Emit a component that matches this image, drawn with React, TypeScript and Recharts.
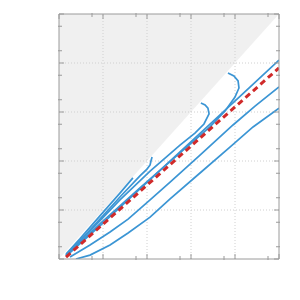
import React from 'react';
import { ComposedChart, Line, Area, XAxis, YAxis, ReferenceLine } from 'recharts';

const majorTicks = [0, 0.2, 0.4, 0.6, 0.8, 1];
const minorTicks = [0.05, 0.1, 0.15, 0.25, 0.3, 0.35, 0.45, 0.5, 0.55, 0.65, 0.7, 0.75, 0.85, 0.9, 0.95];
const gridValues = [0.2, 0.4, 0.6, 0.8];

const shadedRegion = [
  { x: 0, r: [0, 1] },
  { x: 1, r: [1, 1] },
];

const curve1 = [
  { x: 0.032, y: 0.02 }, { x: 0.095, y: 0.082 }, { x: 0.186, y: 0.176 }, { x: 0.277, y: 0.269 }, { x: 0.336, y: 0.331 },
];
const curve2 = [
  { x: 0.032, y: 0.016 }, { x: 0.095, y: 0.073 }, { x: 0.186, y: 0.163 }, { x: 0.277, y: 0.253 }, { x: 0.368, y: 0.339 },
  { x: 0.4, y: 0.367 }, { x: 0.414, y: 0.384 }, { x: 0.418, y: 0.4 }, { x: 0.423, y: 0.416 },
];
const curve3 = [
  { x: 0.032, y: 0.016 }, { x: 0.141, y: 0.114 }, { x: 0.277, y: 0.241 }, { x: 0.414, y: 0.359 }, { x: 0.55, y: 0.465 },
  { x: 0.618, y: 0.514 }, { x: 0.659, y: 0.551 }, { x: 0.682, y: 0.592 }, { x: 0.677, y: 0.616 }, { x: 0.664, y: 0.629 },
  { x: 0.645, y: 0.637 },
];
const curve4 = [
  { x: 0.032, y: 0.012 }, { x: 0.186, y: 0.143 }, { x: 0.368, y: 0.29 }, { x: 0.55, y: 0.433 }, { x: 0.686, y: 0.539 },
  { x: 0.755, y: 0.604 }, { x: 0.8, y: 0.661 }, { x: 0.818, y: 0.698 }, { x: 0.814, y: 0.727 }, { x: 0.795, y: 0.747 },
  { x: 0.768, y: 0.759 },
];
const curve5 = [
  { x: 0.032, y: 0.012 }, { x: 0.186, y: 0.135 }, { x: 0.368, y: 0.286 }, { x: 0.55, y: 0.437 }, { x: 0.732, y: 0.588 },
  { x: 0.868, y: 0.702 }, { x: 1.0, y: 0.812 },
];
const curve6 = [
  { x: 0.05, y: 0.008 }, { x: 0.141, y: 0.057 }, { x: 0.232, y: 0.11 }, { x: 0.314, y: 0.163 }, { x: 0.414, y: 0.241 },
  { x: 0.505, y: 0.314 }, { x: 0.641, y: 0.424 }, { x: 0.791, y: 0.547 }, { x: 0.891, y: 0.624 }, { x: 1.0, y: 0.702 },
];
const curve7 = [
  { x: 0.077, y: 0.0 }, { x: 0.141, y: 0.016 }, { x: 0.232, y: 0.057 }, { x: 0.314, y: 0.106 }, { x: 0.414, y: 0.171 },
  { x: 0.505, y: 0.245 }, { x: 0.641, y: 0.351 }, { x: 0.777, y: 0.457 }, { x: 0.882, y: 0.539 }, { x: 1.0, y: 0.616 },
];
const redLine = [
  { x: 0.032, y: 0.008 }, { x: 1.0, y: 0.78 },
];

const blueCurves = [curve1, curve2, curve3, curve4, curve5, curve6, curve7];

const AX = '#9a9a9a';
const BLUE = '#3b95d4';
const RED = '#d02a2a';
const GRID = '#d0d0d0';

const NoLabel = () => <g />;

export default function App() {
  const common = {
    type: 'number' as const,
    domain: [0, 1],
    tick: NoLabel,
    stroke: AX,
    allowDataOverflow: true,
  };
  return (
    <ComposedChart
      width={292}
      height={292}
      margin={{ top: 4, right: 19, bottom: 39, left: 49 }}
      data={shadedRegion}
    >
      <XAxis {...common} dataKey="x" ticks={majorTicks} tickSize={-5} height={1} />
      <XAxis {...common} xAxisId="bm" dataKey="x" ticks={minorTicks} tickSize={-4} height={1} axisLine={false} />
      <XAxis {...common} xAxisId="t" orientation="top" dataKey="x" ticks={majorTicks} tickSize={-5} height={1} />
      <XAxis {...common} xAxisId="tm" orientation="top" dataKey="x" ticks={minorTicks} tickSize={-4} height={1} axisLine={false} />
      <YAxis {...common} ticks={majorTicks} tickSize={-5} width={1} />
      <YAxis {...common} yAxisId="lm" ticks={minorTicks} tickSize={-4} width={1} axisLine={false} />
      <YAxis {...common} yAxisId="r" orientation="right" ticks={majorTicks} tickSize={-5} width={1} />
      <YAxis {...common} yAxisId="rm" orientation="right" ticks={minorTicks} tickSize={-4} width={1} axisLine={false} />
      <Area data={shadedRegion} dataKey="r" type="linear" stroke="none" fill="#000" fillOpacity={0.06} isAnimationActive={false} />
      {gridValues.map((v) => (
        <ReferenceLine key={'gx' + v} x={v} stroke={GRID} strokeDasharray="1 2" />
      ))}
      {gridValues.map((v) => (
        <ReferenceLine key={'gy' + v} y={v} stroke={GRID} strokeDasharray="1 2" />
      ))}
      {blueCurves.map((c, i) => (
        <Line key={i} data={c} dataKey="y" type="linear" stroke={BLUE} strokeWidth={1.7} dot={false} isAnimationActive={false} />
      ))}
      <Line data={redLine} dataKey="y" type="linear" stroke={RED} strokeWidth={3} strokeDasharray="6 4" dot={false} isAnimationActive={false} />
    </ComposedChart>
  );
}
